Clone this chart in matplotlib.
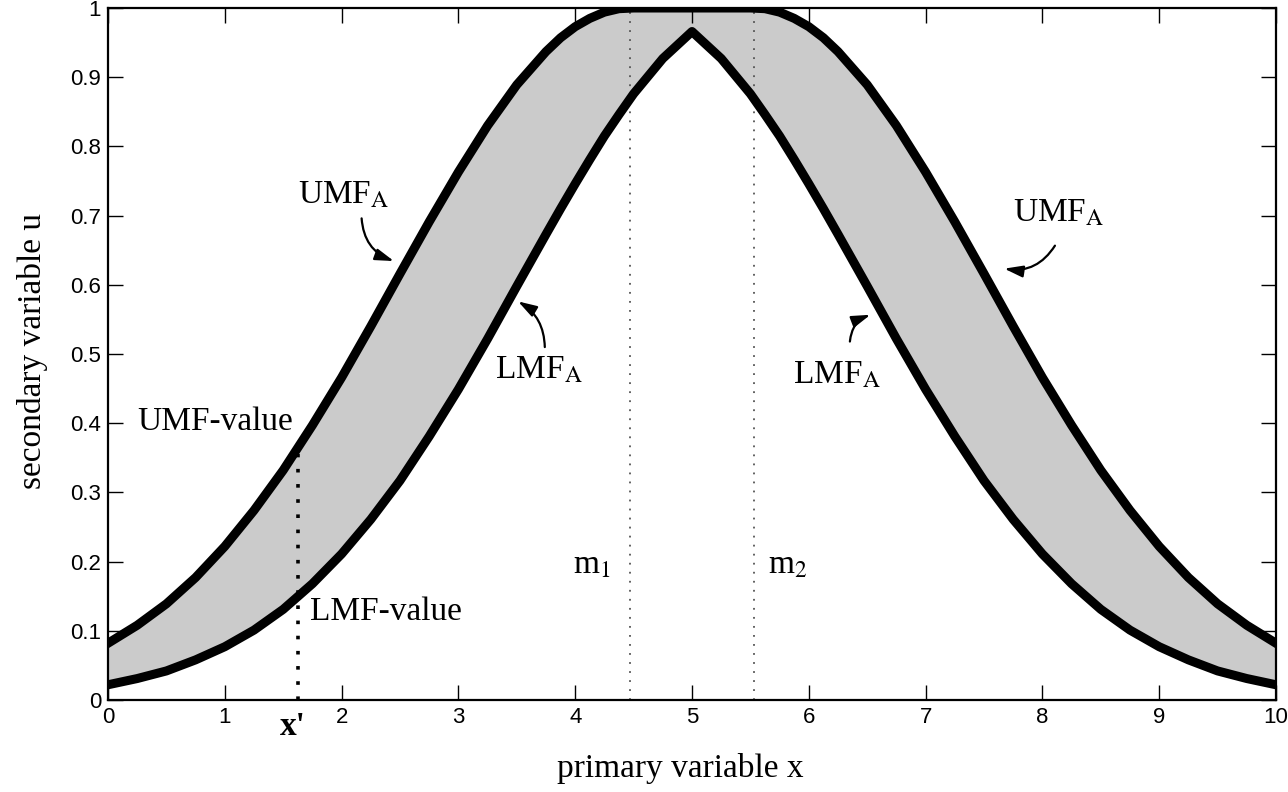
import matplotlib
matplotlib.use("Agg")
import matplotlib.pyplot as plt
from matplotlib.patches import FancyArrowPatch
from matplotlib.transforms import blended_transform_factory

# ---- data ----
x_grid = [0.0, 0.25, 0.5, 0.75, 1.0, 1.25, 1.5, 1.75, 2.0, 2.25, 2.5, 2.75,
          3.0, 3.25, 3.5, 3.75, 3.875, 4.0, 4.125, 4.25, 4.375, 4.5, 4.75, 5.0,
          5.25, 5.5, 5.625, 5.75, 5.875, 6.0, 6.125, 6.25, 6.5, 6.75,
          7.0, 7.25, 7.5, 7.75, 8.0, 8.25, 8.5, 8.75,
          9.0, 9.25, 9.5, 9.75, 10.0]
umf = [0.082, 0.108, 0.139, 0.177, 0.222, 0.274, 0.332, 0.397, 0.466, 0.540,
       0.616, 0.691, 0.763, 0.830, 0.889, 0.937, 0.957, 0.973, 0.985, 0.994,
       0.999, 1.0, 1.0, 1.0,
       1.0, 1.0, 0.999, 0.994, 0.985, 0.973, 0.957, 0.937, 0.889, 0.830,
       0.763, 0.691, 0.616, 0.540, 0.466, 0.397, 0.332, 0.274,
       0.222, 0.177, 0.139, 0.108, 0.082]
lmf = [0.022, 0.031, 0.042, 0.058, 0.077, 0.101, 0.131, 0.168, 0.211, 0.261,
       0.317, 0.381, 0.449, 0.522, 0.598, 0.673, 0.710, 0.746, 0.781, 0.815,
       0.846, 0.876, 0.927, 0.966,
       0.927, 0.876, 0.846, 0.815, 0.781, 0.746, 0.710, 0.673, 0.598, 0.522,
       0.449, 0.381, 0.317, 0.261, 0.211, 0.168, 0.131, 0.101,
       0.077, 0.058, 0.042, 0.031, 0.022]
m1, m2 = 4.47, 5.53
x_prime = 1.63
umf_at_xprime = 0.355

x_ticks = [0, 1, 2, 3, 4, 5, 6, 7, 8, 9, 10]
y_ticks = [0, 0.1, 0.2, 0.3, 0.4, 0.5, 0.6, 0.7, 0.8, 0.9, 1]
y_ticklabels = ["0", "0.1", "0.2", "0.3", "0.4", "0.5", "0.6", "0.7", "0.8", "0.9", "1"]

# ---- figure ----
plt.rcParams['mathtext.fontset'] = 'stix'
serif = ['Liberation Serif', 'DejaVu Serif']
sans = ['Liberation Sans', 'DejaVu Sans']

fig = plt.figure(figsize=(12.88, 7.92), dpi=100)
ax = fig.add_axes([108/1288, 92/792, 1168/1288, 692/792])

ax.fill_between(x_grid, lmf, umf, color='#cbcbcb', lw=0, zorder=1)
ax.plot(x_grid, umf, color='black', lw=6.5, solid_joinstyle='round', zorder=3)
ax.plot(x_grid, lmf, color='black', lw=6.5, solid_joinstyle='round', zorder=3)

# dotted verticals at m1, m2
ax.plot([m1, m1], [0, 1], color='#555555', lw=1.3, ls=(0, (1, 4)), zorder=2)
ax.plot([m2, m2], [0, 1], color='#555555', lw=1.3, ls=(0, (1, 4)), zorder=2)
# dotted x' line
ax.plot([x_prime, x_prime], [0, umf_at_xprime], color='black', lw=2.6,
        ls=(0, (1, 3.2)), zorder=4)

ax.set_xlim(0, 10)
ax.set_ylim(0, 1)
ax.set_xticks(x_ticks)
ax.set_xticklabels([str(t) for t in x_ticks])
ax.set_yticks(y_ticks)
ax.set_yticklabels(y_ticklabels)
ax.tick_params(direction='in', length=11, width=1.0, top=True, right=True,
               labelsize=16, pad=5)
for lab in ax.get_xticklabels() + ax.get_yticklabels():
    lab.set_family(sans)
for sp in ax.spines.values():
    sp.set_linewidth(1.6)
    sp.set_zorder(5)

fs = 24
ax.text(1.627, 0.718, r"UMF$_{\mathrm{A}}$", family=serif, fontsize=fs, va='baseline')
ax.text(3.31, 0.465, r"LMF$_{\mathrm{A}}$", family=serif, fontsize=fs, va='baseline')
ax.text(7.75, 0.691, r"UMF$_{\mathrm{A}}$", family=serif, fontsize=fs, va='baseline')
ax.text(5.865, 0.458, r"LMF$_{\mathrm{A}}$", family=serif, fontsize=fs, va='baseline')
ax.text(0.25, 0.390, "UMF-value", family=serif, fontsize=fs, va='baseline')
ax.text(1.73, 0.116, "LMF-value", family=serif, fontsize=fs, va='baseline')
ax.text(3.98, 0.1835, r"m$_{1}$", family=serif, fontsize=fs, va='baseline')
ax.text(5.65, 0.1835, r"m$_{2}$", family=serif, fontsize=fs, va='baseline')

trans = blended_transform_factory(ax.transData, ax.transAxes)
ax.text(1.58, -0.0506, "x'", family=serif, fontsize=fs, fontweight='bold',
        ha='center', va='baseline', transform=trans)

def curved(tail, head, rad):
    arr = FancyArrowPatch(tail, head, connectionstyle=f"arc3,rad={rad}",
                          arrowstyle="-|>,head_length=0.8,head_width=0.25",
                          mutation_scale=14, lw=1.6, color='black', zorder=6)
    ax.add_patch(arr)

curved((2.17, 0.700), (2.47, 0.633), 0.35)
curved((3.74, 0.506), (3.49, 0.578), 0.3)
curved((8.12, 0.660), (7.65, 0.624), -0.35)
curved((6.35, 0.514), (6.55, 0.558), -0.35)

ax.set_xlabel("primary variable x", family=serif, fontsize=fs)
ax.xaxis.set_label_coords((680 - 108) / 1168, (700 - 777) / 692)
ax.xaxis.label.set_va('baseline')
ax.set_ylabel("secondary variable u", family=serif, fontsize=fs)
ax.yaxis.set_label_coords((41 - 108) / 1168, (700 - 351) / 692)
ax.yaxis.label.set_va('baseline')

fig.savefig("out.png", dpi=100)
